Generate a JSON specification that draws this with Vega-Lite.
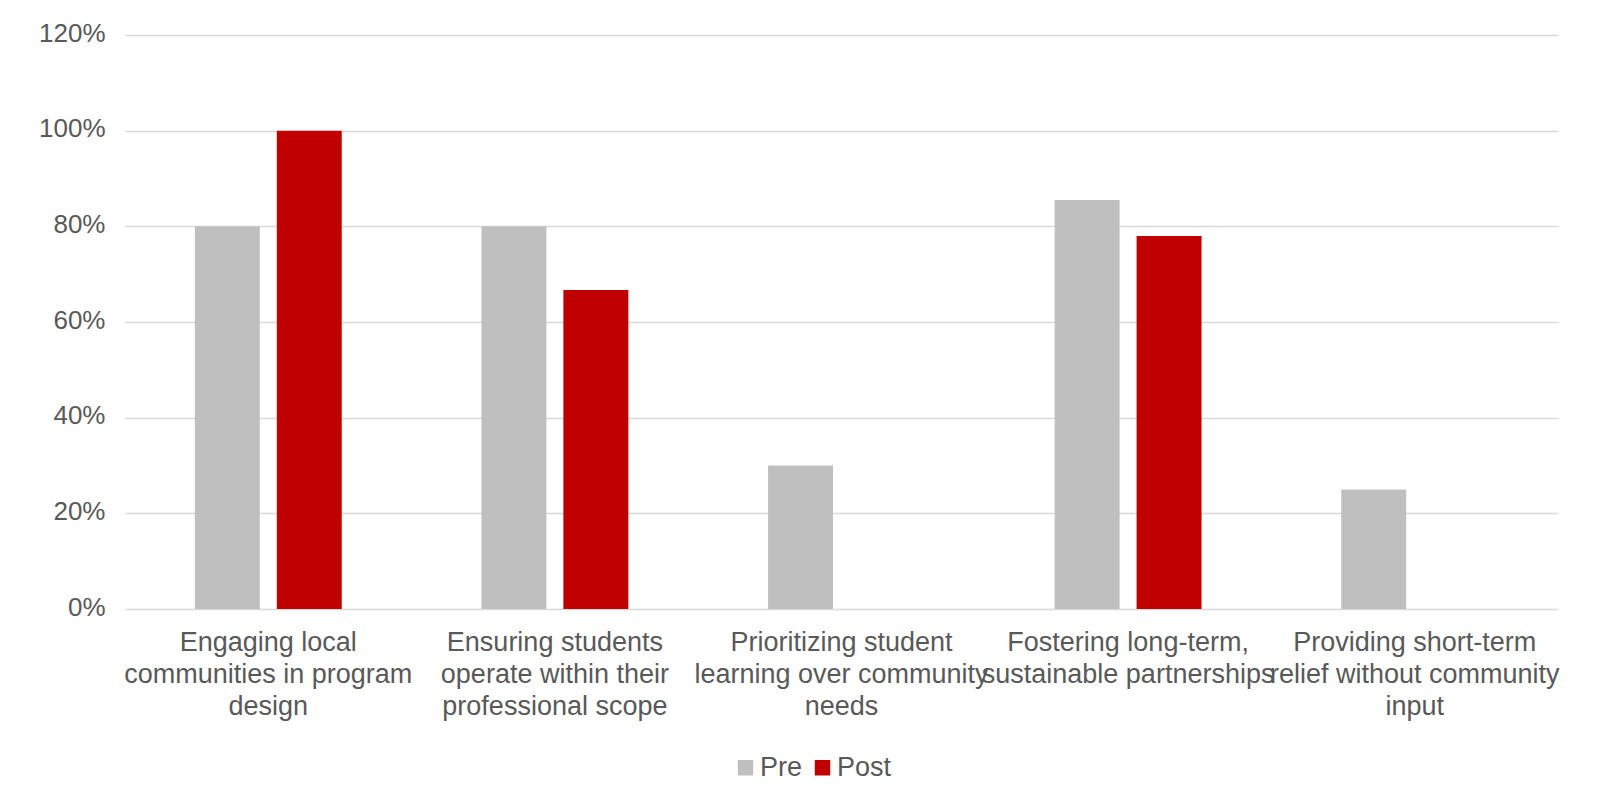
{
  "$schema": "https://vega.github.io/schema/vega-lite/v6.json",
  "width": 1433,
  "height": 574,
  "autosize": {"type": "none"},
  "padding": {"left": 125, "top": 35, "right": 43, "bottom": 203},
  "background": "white",
  "config": {
    "view": {"stroke": null},
    "font": "Liberation Sans",
    "axis": {"labelFont": "Liberation Sans", "labelColor": "#595959"},
    "legend": {"labelFont": "Liberation Sans", "labelColor": "#595959"}
  },
  "data": {
    "values": [
      {"practice": "Engaging local communities in program design", "survey": "Pre", "share": 0.80},
      {"practice": "Engaging local communities in program design", "survey": "Post", "share": 1.00},
      {"practice": "Ensuring students operate within their professional scope", "survey": "Pre", "share": 0.80},
      {"practice": "Ensuring students operate within their professional scope", "survey": "Post", "share": 0.667},
      {"practice": "Prioritizing student learning over community needs", "survey": "Pre", "share": 0.30},
      {"practice": "Fostering long-term, sustainable partnerships", "survey": "Pre", "share": 0.855},
      {"practice": "Fostering long-term, sustainable partnerships", "survey": "Post", "share": 0.78},
      {"practice": "Providing short-term relief without community input", "survey": "Pre", "share": 0.25}
    ]
  },
  "mark": {"type": "bar"},
  "encoding": {
    "x": {
      "field": "practice",
      "type": "nominal",
      "sort": null,
      "title": null,
      "scale": {"paddingInner": 0.4875, "paddingOuter": 0.24375},
      "axis": {
        "domain": false,
        "ticks": false,
        "labelAngle": 0,
        "labelFontSize": 27,
        "labelLineHeight": 32,
        "labelPadding": 20,
        "labelOverlap": false,
        "labelLimit": 1000,
        "labelBaseline": "top",
        "labelExpr": "datum.value == 'Engaging local communities in program design' ? ['Engaging local', 'communities in program', 'design'] : datum.value == 'Ensuring students operate within their professional scope' ? ['Ensuring students', 'operate within their', 'professional scope'] : datum.value == 'Prioritizing student learning over community needs' ? ['Prioritizing student', 'learning over community', 'needs'] : datum.value == 'Fostering long-term, sustainable partnerships' ? ['Fostering long-term,', 'sustainable partnerships'] : ['Providing short-term', 'relief without community', 'input']"
      }
    },
    "xOffset": {
      "field": "survey",
      "type": "nominal",
      "sort": ["Pre", "Post"],
      "scale": {"domain": ["Pre", "Post"], "paddingInner": 0.207, "paddingOuter": 0}
    },
    "y": {
      "field": "share",
      "type": "quantitative",
      "title": null,
      "scale": {"domain": [0, 1.2], "nice": false},
      "axis": {
        "values": [0, 0.2, 0.4, 0.6, 0.8, 1.0, 1.2],
        "format": ".0%",
        "domain": false,
        "ticks": false,
        "labelFontSize": 26,
        "labelPadding": 20,
        "labelOffset": -2,
        "gridColor": "#d9d9d9",
        "gridWidth": 1.5
      }
    },
    "color": {
      "field": "survey",
      "type": "nominal",
      "sort": ["Pre", "Post"],
      "scale": {"domain": ["Pre", "Post"], "range": ["#bfbfbf", "#c00000"]},
      "legend": {
        "title": null,
        "orient": "none",
        "direction": "horizontal",
        "legendX": 607,
        "legendY": 719,
        "padding": 0,
        "symbolType": "square",
        "symbolSize": 240,
        "symbolStrokeWidth": 0,
        "symbolOpacity": 1,
        "labelFontSize": 27,
        "labelOffset": 1,
        "columnPadding": 6
      }
    }
  }
}
